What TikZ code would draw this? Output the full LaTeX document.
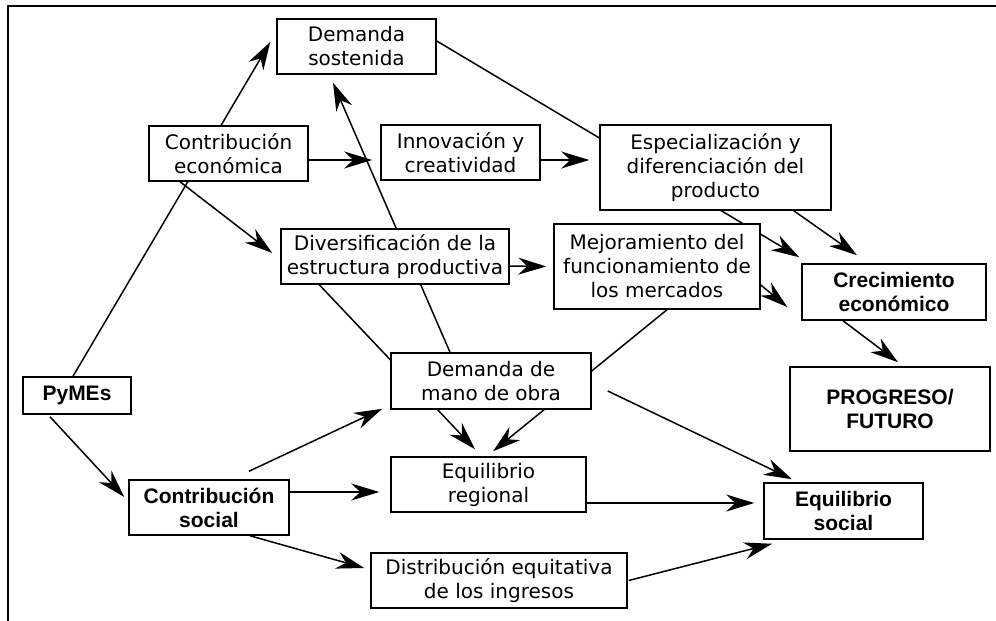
\documentclass[tikz,border=0pt]{standalone}
\usepackage{fontspec}
\setmainfont{DejaVu Sans}
\newfontfamily\heavyfont{Liberation Sans}
\usetikzlibrary{arrows.meta,backgrounds}

\begin{document}
\begin{tikzpicture}[x=1pt,y=1pt,
    box/.style={draw,line width=1.5pt,fill=white,inner sep=0pt,align=center,
      font=\fontsize{20}{24}\selectfont},
    keybox/.style={box,font=\heavyfont\bfseries\fontsize{21}{24}\selectfont},
    ln/.style={line width=1.5pt},
    arr/.style={ln,-{Stealth[length=28pt,width=17pt,inset=9pt]}}]
  \useasboundingbox (0,0) rectangle (996,621);
  \draw[line width=2.5pt] (996,615) -- (8,615) -- (8,0);

  \node[box,minimum width=159,minimum height=55] (dsost) at (356.5,574.5) {Demanda\\sostenida};
  \node[box,minimum width=159,minimum height=55] (ceco) at (228.5,467.5) {Contribución\\económica};
  \node[box,minimum width=159,minimum height=55] (innov) at (460.5,468.5) {Innovación y\\creatividad};
  \node[box,minimum width=231,minimum height=85] (espec) at (715.5,453.5) {Especialización y\\diferenciación del\\producto};
  \node[box,minimum width=228,minimum height=55] (divers) at (395,364.5) {Diversificación de la\\estructura productiva};
  \node[box,minimum width=206,minimum height=85] (mejor) at (657,354.5) {Mejoramiento del\\funcionamiento de\\los mercados};
  \node[keybox,minimum width=184,minimum height=56] (crec) at (894,329) {Crecimiento\\económico};
  \node[keybox,minimum width=200,minimum height=84] (prog) at (890,212) {PROGRESO/\\FUTURO};
  \node[keybox,minimum width=108,minimum height=37] (pymes) at (77,225.5) {PyMEs};
  \node[box,minimum width=200,minimum height=56] (dmano) at (491,240) {Demanda de\\mano de obra};
  \node[box,minimum width=195,minimum height=55] (eqreg) at (488.5,136.5) {Equilibrio\\regional};
  \node[keybox,minimum width=160,minimum height=55] (csoc) at (209,113.5) {Contribución\\social};
  \node[box,minimum width=256,minimum height=55] (distr) at (499,40.5) {Distribución equitativa\\de los ingresos};
  \node[keybox,minimum width=159,minimum height=56] (eqsoc) at (843.5,110) {Equilibrio\\social};

  \begin{pgfonlayer}{background}
    \draw[arr] ([xshift=-4]pymes.north) -- ([xshift=-6,yshift=4.5]dsost.west);
    \draw[arr] ([yshift=-6.5]ceco.east) -- ([xshift=-8,yshift=-7.5]innov.west);
    \draw[arr] ([xshift=-48.5]ceco.south) -- ([xshift=-8,yshift=3.5]divers.west);
    \draw[arr] ([yshift=-7.5]innov.east) -- ([xshift=-10,yshift=7.5]espec.west);
    \draw[arr] ([yshift=5.5]dsost.east) -- ([xshift=-2,yshift=6]crec.north west);
    \draw[arr] ([xshift=-41]dmano.north) -- ([xshift=-23.5,yshift=-8]dsost.south);
    \draw[arr] ([yshift=-9.5]divers.east) -- ([xshift=-7]mejor.west);
    \draw[arr] ([xshift=39]divers.south west) -- ([xshift=-13.5,yshift=7]eqreg.north);
    \draw[arr] ([xshift=10]mejor.south) -- ([xshift=4.5,yshift=5]eqreg.north);
    \draw[arr] ([xshift=-38]espec.south east) -- ([xshift=-37,yshift=8]crec.north);
    \draw[arr] ([yshift=-18.5]mejor.east) -- ([xshift=-14,yshift=-15]crec.west);
    \draw[arr] ([xshift=-51]crec.south) -- ([xshift=8,yshift=4]prog.north);
    \draw[arr] ([xshift=16,yshift=-10]dmano.east) -- ([xshift=-51.5,yshift=3]eqsoc.north);
    \draw[arr] ([xshift=-27,yshift=-2]pymes.south) -- ([xshift=-4,yshift=10.5]csoc.west);
    \draw[arr] ([xshift=40,yshift=8]csoc.north) -- ([xshift=-8,yshift=1]dmano.south west);
    \draw[arr] ([yshift=15.5]csoc.east) -- ([xshift=-11,yshift=-7.5]eqreg.west);
    \draw[arr] ([xshift=41]csoc.south) -- ([xshift=-6,yshift=12.5]distr.west);
    \draw[arr] ([xshift=-3,yshift=-18.5]eqreg.east) -- ([xshift=-9,yshift=8]eqsoc.west);
    \draw[arr] ([xshift=1]distr.east) -- ([xshift=-71.5,yshift=-4]eqsoc.south);
  \end{pgfonlayer}
\end{tikzpicture}
\end{document}
